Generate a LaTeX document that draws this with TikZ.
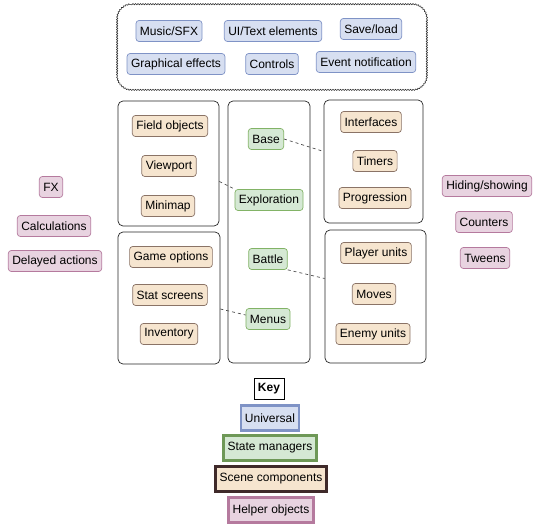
\documentclass[tikz,border=0pt]{standalone}
\usepackage{fontspec}
\setmainfont{Liberation Sans}
\usepackage{xcolor}
\usepackage{tikz}
\usetikzlibrary{positioning, calc, decorations.pathmorphing}

\definecolor{unifill}{HTML}{D7DFF1}
\definecolor{unidraw}{HTML}{7F93C6}
\definecolor{statefill}{HTML}{D5E8D4}
\definecolor{statedraw}{HTML}{82B366}
\definecolor{scenefill}{HTML}{F6E5CF}
\definecolor{scenedraw}{HTML}{8A7366}
\definecolor{scenekey}{HTML}{3F2A2A}
\definecolor{helpfill}{HTML}{E8D3E0}
\definecolor{helpdraw}{HTML}{B57A9E}

\tikzset{
  item/.style={draw, rounded corners=3pt, minimum height=21pt, inner xsep=4pt,
    font=\fontsize{12}{14}\selectfont, line width=0.7pt},
  universal/.style={item, fill=unifill, draw=unidraw},
  statenode/.style={item, fill=statefill, draw=statedraw},
  scenenode/.style={item, fill=scenefill, draw=scenedraw},
  helper/.style={item, fill=helpfill, draw=helpdraw},
  group/.style={draw=black!85, rounded corners=5pt, line width=0.7pt},
  link/.style={dashed, draw=black!70, line width=0.7pt},
  keynode/.style={item, rounded corners=0pt, minimum height=25pt, line width=2.4pt}
}

\begin{document}
\begin{tikzpicture}[x=1pt, y=-1pt]
  \useasboundingbox (0,0) rectangle (540,529);

  % scalloped frame round the universal objects
  \node[minimum width=308pt, minimum height=84pt] (core) at (272,47) {};
  \draw[black!80, line width=0.6pt, decorate,
    decoration={bumps, segment length=5pt, amplitude=1.3pt}]
    ([xshift=14pt]core.north west) -- ([xshift=-14pt]core.north east)
    arc[start angle=90, end angle=0, radius=14pt]
    -- ([yshift=14pt]core.south east)
    arc[start angle=0, end angle=-90, radius=14pt]
    -- ([xshift=14pt]core.south west)
    arc[start angle=-90, end angle=-180, radius=14pt]
    -- ([yshift=-14pt]core.north west)
    arc[start angle=180, end angle=90, radius=14pt] -- cycle;
  \node[universal] (music) at (169,31) {Music/SFX};
  \node[universal] (uitext) at (273,31) {UI/Text elements};
  \node[universal] (save) at (371,29) {Save/load};
  \node[universal] (gfx) at (176,64) {Graphical effects};
  \node[universal] (controls) at (272,64) {Controls};
  \node[universal] (events) at (366,62) {Event notification};

  \node[group, minimum width=101pt, minimum height=125pt] (fieldbox) at (168.5,163.5) {};
  \node[group, minimum width=82pt, minimum height=262pt] (statebox) at (269,232) {};
  \node[group, minimum width=99pt, minimum height=123pt] (basebox) at (373.5,161.5) {};
  \node[group, minimum width=102pt, minimum height=132pt] (menubox) at (169,298) {};
  \node[group, minimum width=101pt, minimum height=133pt] (battlebox) at (375.5,296.5) {};

  \node[scenenode] (fieldobj) at (170,126) {Field objects};
  \node[scenenode] (viewport) at (169,166) {Viewport};
  \node[scenenode] (minimap) at (168,206) {Minimap};

  \node[statenode] (base) at (266,139) {Base};
  \node[statenode] (explore) at (269,200) {Exploration};
  \node[statenode] (battle) at (268,259) {Battle};
  \node[statenode] (menus) at (268,319) {Menus};

  \node[scenenode] (interfaces) at (371,122) {Interfaces};
  \node[scenenode] (timers) at (375,161) {Timers};
  \node[scenenode] (progress) at (375,198) {Progression};

  \node[scenenode] (options) at (171,257) {Game options};
  \node[scenenode] (stats) at (170,295) {Stat screens};
  \node[scenenode] (inventory) at (169,334) {Inventory};

  \node[scenenode] (players) at (376,253) {Player units};
  \node[scenenode] (moves) at (374,294) {Moves};
  \node[scenenode] (enemies) at (373,334) {Enemy units};

  \draw[link] (base.east) -- ([yshift=10pt]basebox.west);
  \draw[link] ([yshift=-18pt]fieldbox.east) -- (explore.north west);
  \draw[link] (battle.south east) -- ([yshift=18pt]battlebox.west);
  \draw[link] ([yshift=-11pt]menubox.east) -- ([yshift=4pt]menus.west);

  \node[helper] (fx) at (51,187) {FX};
  \node[helper] (calc) at (54,226) {Calculations};
  \node[helper] (delayed) at (55,261) {Delayed actions};
  \node[helper] (hiding) at (487,186) {Hiding/showing};
  \node[helper] (counters) at (484,222) {Counters};
  \node[helper] (tweens) at (485,258) {Tweens};

  \node[item, rounded corners=0pt, draw=black, line width=0.8pt, font=\fontsize{12}{14}\selectfont\bfseries] (key) at (269,389) {Key};
  \node[keynode, fill=unifill, draw=unidraw] (keyuni) at (270,418) {Universal};
  \node[keynode, fill=statefill, draw=statedraw!85!black] (keystate) at (270,448) {State managers};
  \node[keynode, fill=scenefill, draw=scenekey] (keyscene) at (271,479) {Scene components};
  \node[keynode, fill=helpfill, draw=helpdraw] (keyhelp) at (271,510) {Helper objects};
\end{tikzpicture}
\end{document}
